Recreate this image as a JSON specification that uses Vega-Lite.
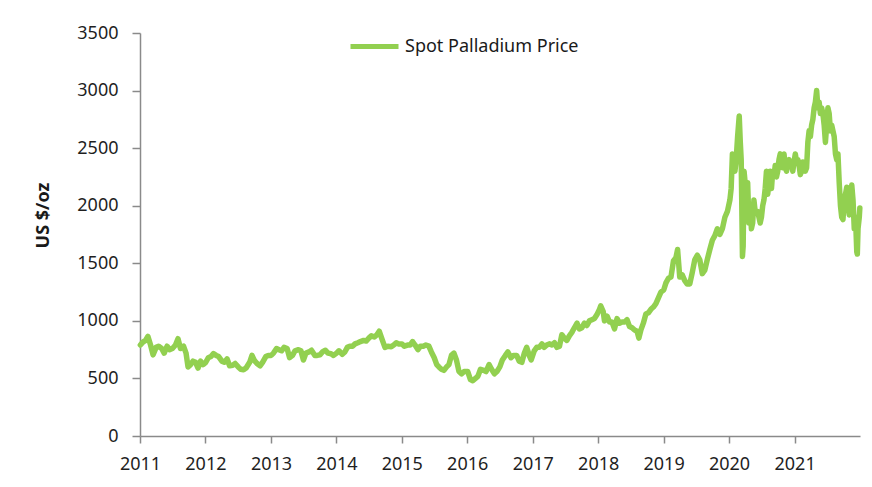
{
  "$schema": "https://vega.github.io/schema/vega-lite/v6.json",
  "width": 720,
  "height": 403,
  "autosize": {"type": "none"},
  "padding": {"left": 140, "top": 33, "right": 12, "bottom": 51},
  "background": "white",
  "config": {
    "view": {"stroke": null},
    "font": "Noto Sans",
    "axis": {"grid": false, "domainColor": "#8a8a8a", "tickColor": "#8a8a8a", "domainWidth": 1.5, "tickWidth": 1.5, "labelColor": "#1f1f1f", "labelFont": "Noto Sans", "labelFontSize": 18}
  },
  "data": {"values": [
    {"date": "2011-01-03", "price": 790}, {"date": "2011-01-17", "price": 815}, {"date": "2011-02-01", "price": 830}, {"date": "2011-02-14", "price": 865},
    {"date": "2011-03-01", "price": 790}, {"date": "2011-03-15", "price": 705}, {"date": "2011-04-01", "price": 770}, {"date": "2011-04-15", "price": 780},
    {"date": "2011-05-02", "price": 760}, {"date": "2011-05-16", "price": 720}, {"date": "2011-06-01", "price": 780}, {"date": "2011-06-15", "price": 750},
    {"date": "2011-07-01", "price": 760}, {"date": "2011-07-18", "price": 790}, {"date": "2011-08-01", "price": 845}, {"date": "2011-08-15", "price": 760},
    {"date": "2011-09-01", "price": 780}, {"date": "2011-09-15", "price": 720}, {"date": "2011-09-26", "price": 600}, {"date": "2011-10-10", "price": 620},
    {"date": "2011-10-24", "price": 650}, {"date": "2011-11-07", "price": 640}, {"date": "2011-11-21", "price": 590}, {"date": "2011-12-05", "price": 650},
    {"date": "2011-12-19", "price": 620},
    {"date": "2012-01-03", "price": 640}, {"date": "2012-01-17", "price": 680}, {"date": "2012-02-01", "price": 690}, {"date": "2012-02-15", "price": 715},
    {"date": "2012-03-01", "price": 700}, {"date": "2012-03-15", "price": 690}, {"date": "2012-04-02", "price": 650}, {"date": "2012-04-16", "price": 640},
    {"date": "2012-05-01", "price": 670}, {"date": "2012-05-15", "price": 610}, {"date": "2012-06-01", "price": 615}, {"date": "2012-06-15", "price": 630},
    {"date": "2012-07-02", "price": 600}, {"date": "2012-07-16", "price": 580}, {"date": "2012-08-01", "price": 575}, {"date": "2012-08-15", "price": 590},
    {"date": "2012-09-04", "price": 640}, {"date": "2012-09-17", "price": 700}, {"date": "2012-10-01", "price": 655}, {"date": "2012-10-15", "price": 630},
    {"date": "2012-11-01", "price": 610}, {"date": "2012-11-15", "price": 640}, {"date": "2012-12-03", "price": 690}, {"date": "2012-12-17", "price": 700},
    {"date": "2013-01-02", "price": 700}, {"date": "2013-01-15", "price": 720}, {"date": "2013-02-01", "price": 760}, {"date": "2013-02-15", "price": 750},
    {"date": "2013-03-01", "price": 740}, {"date": "2013-03-15", "price": 770}, {"date": "2013-04-01", "price": 760}, {"date": "2013-04-15", "price": 680},
    {"date": "2013-05-01", "price": 700}, {"date": "2013-05-15", "price": 740}, {"date": "2013-06-03", "price": 750}, {"date": "2013-06-17", "price": 740},
    {"date": "2013-07-01", "price": 660}, {"date": "2013-07-15", "price": 720}, {"date": "2013-08-01", "price": 730}, {"date": "2013-08-15", "price": 745},
    {"date": "2013-09-03", "price": 700}, {"date": "2013-09-16", "price": 700}, {"date": "2013-10-01", "price": 705}, {"date": "2013-10-15", "price": 730},
    {"date": "2013-11-01", "price": 745}, {"date": "2013-11-15", "price": 720}, {"date": "2013-12-02", "price": 715}, {"date": "2013-12-16", "price": 700},
    {"date": "2014-01-02", "price": 720}, {"date": "2014-01-15", "price": 740}, {"date": "2014-02-03", "price": 710}, {"date": "2014-02-17", "price": 730},
    {"date": "2014-03-03", "price": 770}, {"date": "2014-03-17", "price": 780}, {"date": "2014-04-01", "price": 780}, {"date": "2014-04-15", "price": 800},
    {"date": "2014-05-01", "price": 810}, {"date": "2014-05-15", "price": 820}, {"date": "2014-06-02", "price": 830}, {"date": "2014-06-16", "price": 825},
    {"date": "2014-07-01", "price": 850}, {"date": "2014-07-15", "price": 870}, {"date": "2014-08-01", "price": 860}, {"date": "2014-08-15", "price": 880},
    {"date": "2014-08-28", "price": 910}, {"date": "2014-09-15", "price": 830}, {"date": "2014-09-29", "price": 770}, {"date": "2014-10-15", "price": 780},
    {"date": "2014-11-03", "price": 775}, {"date": "2014-11-17", "price": 790}, {"date": "2014-12-01", "price": 810}, {"date": "2014-12-15", "price": 800},
    {"date": "2015-01-02", "price": 800}, {"date": "2015-01-15", "price": 780}, {"date": "2015-02-02", "price": 790}, {"date": "2015-02-16", "price": 790},
    {"date": "2015-03-02", "price": 820}, {"date": "2015-03-16", "price": 790}, {"date": "2015-04-01", "price": 750}, {"date": "2015-04-15", "price": 780},
    {"date": "2015-05-01", "price": 780}, {"date": "2015-05-15", "price": 790}, {"date": "2015-06-01", "price": 780}, {"date": "2015-06-15", "price": 730},
    {"date": "2015-07-01", "price": 680}, {"date": "2015-07-15", "price": 620}, {"date": "2015-07-27", "price": 600}, {"date": "2015-08-10", "price": 580},
    {"date": "2015-08-24", "price": 570}, {"date": "2015-09-08", "price": 600}, {"date": "2015-09-21", "price": 620}, {"date": "2015-10-05", "price": 700},
    {"date": "2015-10-19", "price": 720}, {"date": "2015-11-02", "price": 660}, {"date": "2015-11-16", "price": 560}, {"date": "2015-12-01", "price": 540},
    {"date": "2015-12-15", "price": 560},
    {"date": "2016-01-04", "price": 560}, {"date": "2016-01-19", "price": 490}, {"date": "2016-02-01", "price": 480}, {"date": "2016-02-16", "price": 500},
    {"date": "2016-03-01", "price": 520}, {"date": "2016-03-15", "price": 580}, {"date": "2016-04-01", "price": 570}, {"date": "2016-04-15", "price": 560},
    {"date": "2016-05-02", "price": 620}, {"date": "2016-05-16", "price": 580}, {"date": "2016-06-01", "price": 540}, {"date": "2016-06-15", "price": 560},
    {"date": "2016-07-01", "price": 600}, {"date": "2016-07-15", "price": 660}, {"date": "2016-08-01", "price": 700}, {"date": "2016-08-15", "price": 730},
    {"date": "2016-09-01", "price": 680}, {"date": "2016-09-15", "price": 700}, {"date": "2016-10-03", "price": 700}, {"date": "2016-10-17", "price": 650},
    {"date": "2016-11-01", "price": 640}, {"date": "2016-11-15", "price": 720}, {"date": "2016-11-28", "price": 770}, {"date": "2016-12-12", "price": 700},
    {"date": "2016-12-23", "price": 660},
    {"date": "2017-01-09", "price": 740}, {"date": "2017-01-23", "price": 770}, {"date": "2017-02-06", "price": 770}, {"date": "2017-02-21", "price": 800},
    {"date": "2017-03-06", "price": 770}, {"date": "2017-03-20", "price": 790}, {"date": "2017-04-03", "price": 800}, {"date": "2017-04-18", "price": 790},
    {"date": "2017-05-02", "price": 810}, {"date": "2017-05-16", "price": 770}, {"date": "2017-05-30", "price": 780}, {"date": "2017-06-12", "price": 880},
    {"date": "2017-06-26", "price": 850}, {"date": "2017-07-10", "price": 830}, {"date": "2017-07-24", "price": 870}, {"date": "2017-08-07", "price": 900},
    {"date": "2017-08-21", "price": 940}, {"date": "2017-09-05", "price": 980}, {"date": "2017-09-18", "price": 930}, {"date": "2017-10-02", "price": 940},
    {"date": "2017-10-16", "price": 980}, {"date": "2017-10-30", "price": 960}, {"date": "2017-11-13", "price": 1000}, {"date": "2017-11-27", "price": 1010},
    {"date": "2017-12-11", "price": 1020}, {"date": "2017-12-27", "price": 1060},
    {"date": "2018-01-08", "price": 1100}, {"date": "2018-01-15", "price": 1130}, {"date": "2018-01-29", "price": 1080}, {"date": "2018-02-05", "price": 1000},
    {"date": "2018-02-20", "price": 1040}, {"date": "2018-03-05", "price": 990}, {"date": "2018-03-19", "price": 990}, {"date": "2018-04-02", "price": 930},
    {"date": "2018-04-16", "price": 1020}, {"date": "2018-04-30", "price": 980}, {"date": "2018-05-14", "price": 990}, {"date": "2018-05-29", "price": 990},
    {"date": "2018-06-11", "price": 1010}, {"date": "2018-06-25", "price": 950}, {"date": "2018-07-09", "price": 940}, {"date": "2018-07-23", "price": 920},
    {"date": "2018-08-06", "price": 910}, {"date": "2018-08-16", "price": 850}, {"date": "2018-08-27", "price": 920}, {"date": "2018-09-10", "price": 980},
    {"date": "2018-09-24", "price": 1060}, {"date": "2018-10-08", "price": 1070}, {"date": "2018-10-22", "price": 1100}, {"date": "2018-11-05", "price": 1120},
    {"date": "2018-11-19", "price": 1150}, {"date": "2018-12-03", "price": 1200}, {"date": "2018-12-17", "price": 1250},
    {"date": "2019-01-02", "price": 1270}, {"date": "2019-01-14", "price": 1330}, {"date": "2019-01-28", "price": 1370}, {"date": "2019-02-11", "price": 1380},
    {"date": "2019-02-25", "price": 1520}, {"date": "2019-03-11", "price": 1550}, {"date": "2019-03-20", "price": 1620}, {"date": "2019-04-01", "price": 1380},
    {"date": "2019-04-15", "price": 1400}, {"date": "2019-04-29", "price": 1350}, {"date": "2019-05-13", "price": 1320}, {"date": "2019-05-27", "price": 1320},
    {"date": "2019-06-10", "price": 1420}, {"date": "2019-06-24", "price": 1530}, {"date": "2019-07-08", "price": 1570}, {"date": "2019-07-22", "price": 1530},
    {"date": "2019-08-05", "price": 1410}, {"date": "2019-08-19", "price": 1440}, {"date": "2019-09-03", "price": 1540}, {"date": "2019-09-16", "price": 1620},
    {"date": "2019-09-30", "price": 1700}, {"date": "2019-10-14", "price": 1740}, {"date": "2019-10-28", "price": 1800}, {"date": "2019-11-11", "price": 1750},
    {"date": "2019-11-25", "price": 1800}, {"date": "2019-12-09", "price": 1900}, {"date": "2019-12-23", "price": 1950},
    {"date": "2020-01-06", "price": 2050}, {"date": "2020-01-13", "price": 2150}, {"date": "2020-01-20", "price": 2450}, {"date": "2020-01-27", "price": 2300},
    {"date": "2020-02-03", "price": 2300}, {"date": "2020-02-10", "price": 2400}, {"date": "2020-02-18", "price": 2600}, {"date": "2020-02-27", "price": 2780},
    {"date": "2020-03-04", "price": 2550}, {"date": "2020-03-09", "price": 2400}, {"date": "2020-03-16", "price": 1560}, {"date": "2020-03-20", "price": 1650},
    {"date": "2020-03-25", "price": 2300}, {"date": "2020-03-31", "price": 2200}, {"date": "2020-04-06", "price": 2100}, {"date": "2020-04-14", "price": 2200},
    {"date": "2020-04-21", "price": 1850}, {"date": "2020-04-28", "price": 2000}, {"date": "2020-05-05", "price": 1800}, {"date": "2020-05-12", "price": 1850},
    {"date": "2020-05-19", "price": 2050}, {"date": "2020-05-26", "price": 1950}, {"date": "2020-06-02", "price": 1950}, {"date": "2020-06-09", "price": 1950},
    {"date": "2020-06-16", "price": 1900}, {"date": "2020-06-23", "price": 1850}, {"date": "2020-06-30", "price": 1900}, {"date": "2020-07-07", "price": 2000},
    {"date": "2020-07-14", "price": 2050}, {"date": "2020-07-21", "price": 2150}, {"date": "2020-07-28", "price": 2300}, {"date": "2020-08-04", "price": 2100},
    {"date": "2020-08-11", "price": 2200}, {"date": "2020-08-18", "price": 2300}, {"date": "2020-08-25", "price": 2150}, {"date": "2020-09-01", "price": 2300},
    {"date": "2020-09-08", "price": 2250}, {"date": "2020-09-15", "price": 2350}, {"date": "2020-09-22", "price": 2250}, {"date": "2020-09-29", "price": 2300},
    {"date": "2020-10-06", "price": 2400}, {"date": "2020-10-13", "price": 2450}, {"date": "2020-10-20", "price": 2380}, {"date": "2020-10-27", "price": 2330},
    {"date": "2020-11-03", "price": 2450}, {"date": "2020-11-10", "price": 2330}, {"date": "2020-11-17", "price": 2300}, {"date": "2020-11-24", "price": 2380},
    {"date": "2020-12-01", "price": 2400}, {"date": "2020-12-08", "price": 2350}, {"date": "2020-12-15", "price": 2350}, {"date": "2020-12-22", "price": 2300},
    {"date": "2020-12-29", "price": 2380},
    {"date": "2021-01-05", "price": 2450}, {"date": "2021-01-12", "price": 2380}, {"date": "2021-01-19", "price": 2400}, {"date": "2021-01-26", "price": 2350},
    {"date": "2021-02-02", "price": 2270}, {"date": "2021-02-09", "price": 2300}, {"date": "2021-02-16", "price": 2380}, {"date": "2021-02-23", "price": 2350},
    {"date": "2021-03-02", "price": 2300}, {"date": "2021-03-09", "price": 2330}, {"date": "2021-03-16", "price": 2550}, {"date": "2021-03-23", "price": 2650},
    {"date": "2021-03-30", "price": 2600}, {"date": "2021-04-06", "price": 2700}, {"date": "2021-04-13", "price": 2750}, {"date": "2021-04-20", "price": 2850},
    {"date": "2021-04-27", "price": 2900}, {"date": "2021-05-04", "price": 3000}, {"date": "2021-05-11", "price": 2850}, {"date": "2021-05-18", "price": 2900},
    {"date": "2021-05-25", "price": 2800}, {"date": "2021-06-01", "price": 2850}, {"date": "2021-06-08", "price": 2800}, {"date": "2021-06-15", "price": 2700},
    {"date": "2021-06-22", "price": 2550}, {"date": "2021-06-29", "price": 2700}, {"date": "2021-07-06", "price": 2850}, {"date": "2021-07-13", "price": 2800},
    {"date": "2021-07-20", "price": 2650}, {"date": "2021-07-27", "price": 2700}, {"date": "2021-08-03", "price": 2650}, {"date": "2021-08-10", "price": 2600},
    {"date": "2021-08-17", "price": 2450}, {"date": "2021-08-24", "price": 2400}, {"date": "2021-08-31", "price": 2450}, {"date": "2021-09-07", "price": 2200},
    {"date": "2021-09-14", "price": 2000}, {"date": "2021-09-21", "price": 1900}, {"date": "2021-09-28", "price": 1880}, {"date": "2021-10-05", "price": 2050},
    {"date": "2021-10-12", "price": 2100}, {"date": "2021-10-19", "price": 2160}, {"date": "2021-10-26", "price": 2000}, {"date": "2021-11-02", "price": 1920},
    {"date": "2021-11-09", "price": 2080}, {"date": "2021-11-16", "price": 2180}, {"date": "2021-11-23", "price": 2050}, {"date": "2021-11-30", "price": 1800},
    {"date": "2021-12-07", "price": 1900}, {"date": "2021-12-14", "price": 1600}, {"date": "2021-12-17", "price": 1580}, {"date": "2021-12-21", "price": 1800},
    {"date": "2021-12-28", "price": 1900}, {"date": "2021-12-31", "price": 1980}
  ]},
  "mark": {"type": "line", "strokeWidth": 5.5, "strokeJoin": "round", "strokeCap": "round", "interpolate": "linear"},
  "encoding": {
    "x": {
      "field": "date", "type": "temporal",
      "scale": {"domain": ["2011-01-01", "2022-01-01"], "nice": false},
      "axis": {"title": null, "format": "%Y", "values": [{"year": 2011}, {"year": 2012}, {"year": 2013}, {"year": 2014}, {"year": 2015}, {"year": 2016}, {"year": 2017}, {"year": 2018}, {"year": 2019}, {"year": 2020}, {"year": 2021}], "tickSize": 7, "labelPadding": 12, "labelFlush": false, "labelOverlap": false}
    },
    "y": {
      "field": "price", "type": "quantitative",
      "scale": {"domain": [0, 3500], "nice": false, "zero": true},
      "axis": {"title": "US $/oz", "format": "d", "values": [0, 500, 1000, 1500, 2000, 2500, 3000, 3500], "tickSize": 8, "labelPadding": 14, "titleFont": "Noto Sans", "titleFontSize": 18, "titleFontWeight": "bold", "titleColor": "#1a1a1a", "titleX": -88, "titleY": 182, "titleAngle": -90}
    },
    "stroke": {
      "datum": "Spot Palladium Price", "type": "nominal",
      "scale": {"range": ["#92D050"]},
      "legend": {"title": null, "orient": "none", "legendX": 208, "legendY": -13, "symbolType": "stroke", "symbolSize": 2304, "symbolStrokeWidth": 5, "symbolStrokeColor": "#92D050", "labelFontSize": 18, "labelFont": "Noto Sans", "labelColor": "#1a1a1a", "labelOffset": 4, "labelLimit": 0}
    }
  }
}
